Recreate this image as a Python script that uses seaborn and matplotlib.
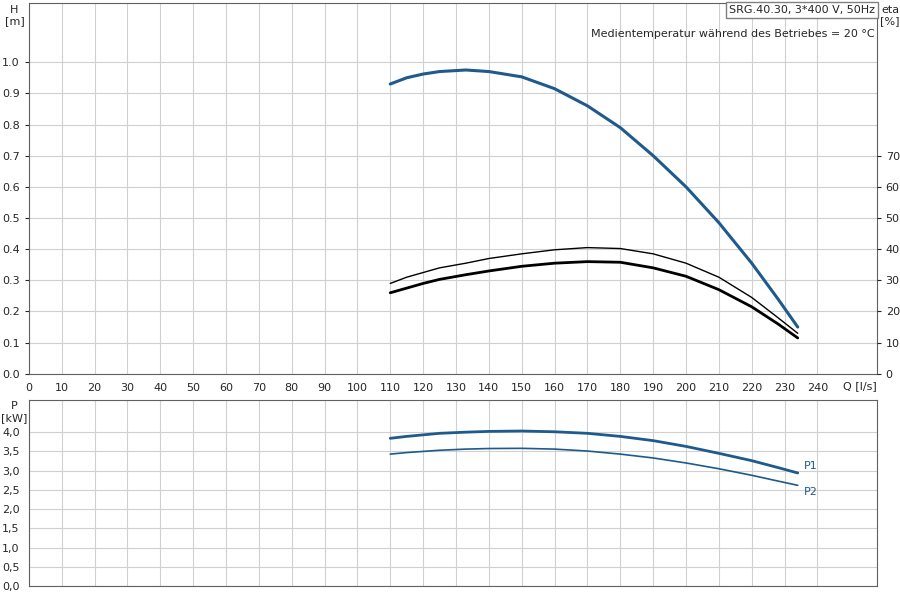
import numpy as np
import pandas as pd
import matplotlib
matplotlib.use("Agg")
import matplotlib.pyplot as plt
import seaborn as sns

sns.set_style("white")
plt.rcParams['font.family'] = ['DejaVu Sans']

# curves
q = [110, 115, 120, 125, 133, 140, 150, 160, 170, 180, 190, 200, 210, 220, 228, 234]
head = [0.93, 0.95, 0.962, 0.97, 0.975, 0.97, 0.953, 0.915, 0.86, 0.79, 0.70, 0.60, 0.485, 0.355, 0.24, 0.15]
eta_thin = [29, 31, 32.5, 34, 35.5, 37, 38.5, 39.8, 40.5, 40.2, 38.5, 35.5, 31, 24.5, 18, 13]
eta_thick = [26, 27.5, 29, 30.3, 31.8, 33, 34.5, 35.5, 36, 35.8, 34, 31.3, 27, 21.5, 16, 11.5]
p1 = [3.84, 3.89, 3.93, 3.97, 4.00, 4.02, 4.03, 4.01, 3.97, 3.89, 3.78, 3.63, 3.45, 3.26, 3.08, 2.94]
p2 = [3.43, 3.47, 3.50, 3.53, 3.56, 3.575, 3.58, 3.56, 3.51, 3.43, 3.33, 3.20, 3.05, 2.88, 2.73, 2.62]

blue = '#1f5a8c'
fig = plt.figure(figsize=(9, 6), dpi=100)
ax = fig.add_axes([0.032, 0.377, 0.942, 0.618])
axp = fig.add_axes([0.032, 0.023, 0.942, 0.31])

sns.lineplot(x=q, y=head, ax=ax, color=blue, lw=2.2)
# eta on same axes scaled: 10 % == 0.1 m
sns.lineplot(x=q, y=np.array(eta_thin) / 100, ax=ax, color='black', lw=1)
sns.lineplot(x=q, y=np.array(eta_thick) / 100, ax=ax, color='black', lw=2)
sns.lineplot(x=q, y=p1, ax=axp, color=blue, lw=2)
sns.lineplot(x=q, y=p2, ax=axp, color=blue, lw=1.2)

for a in (ax, axp):
    a.set_xlim(0, 258)
    a.set_xticks(np.arange(0, 250, 10))
    a.grid(True, color='#d0d0d0', lw=0.8)
    for s in a.spines.values():
        s.set_color('#606060')
    a.tick_params(labelsize=8, length=3)

ax.set_ylim(0, 1.19)
ax.set_yticks(np.arange(0, 1.05, 0.1))
ax.set_yticklabels([f'{v:.1f}' for v in np.arange(0, 1.05, 0.1)])
ax.set_xticklabels([str(v) for v in range(0, 250, 10)])
ax.text(-0.017, 0.995, 'H\n[m]', transform=ax.transAxes, ha='center', va='top', fontsize=8)
ax.text(1.016, 0.995, 'eta\n[%]', transform=ax.transAxes, ha='center', va='top', fontsize=8)
ax.text(253, -0.025, 'Q [l/s]', ha='center', va='top', fontsize=8)
ax.text(0.998, 0.995, 'SRG.40.30, 3*400 V, 50Hz', transform=ax.transAxes, ha='right', va='top',
        fontsize=8, bbox=dict(facecolor='white', edgecolor='#808080', pad=2))
ax.text(0.998, 0.93, 'Medientemperatur während des Betriebes = 20 °C', transform=ax.transAxes,
        ha='right', va='top', fontsize=8)

ax2 = ax.twinx()
ax2.set_ylim(0, 119)
ax2.set_yticks(np.arange(0, 71, 10))
ax2.tick_params(labelsize=8, length=3)
for s in ax2.spines.values():
    s.set_visible(False)

axp.set_ylim(0, 4.83)
ticks = np.arange(0, 4.01, 0.5)
axp.set_yticks(ticks)
axp.set_yticklabels([f'{v:.1f}'.replace('.', ',') for v in ticks])
axp.set_xticklabels([])
axp.text(-0.017, 0.995, 'P\n[kW]', transform=axp.transAxes, ha='center', va='top', fontsize=8)
axp.text(q[-1] + 2, p1[-1] + 0.05, 'P1', color=blue, fontsize=8, va='bottom')
axp.text(q[-1] + 2, p2[-1] - 0.05, 'P2', color=blue, fontsize=8, va='top')

fig.savefig('out.png', dpi=100)
